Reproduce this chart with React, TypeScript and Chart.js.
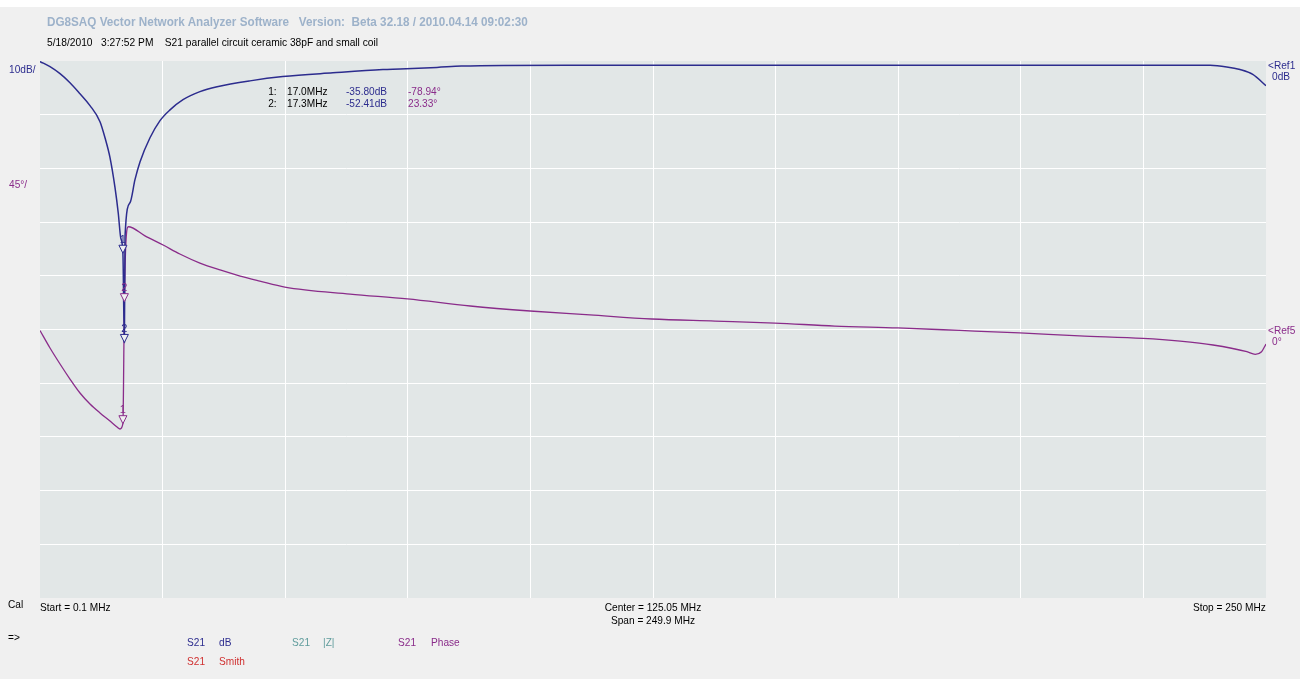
import React, { useEffect, useRef } from 'react';
import { Chart, registerables } from 'chart.js';

Chart.register(...registerables);

// ---- data ----
const dbFreqMHz = [
  0.1, 2.14, 4.18, 6.21, 8.25, 10.29, 12.33, 13.35, 14.37, 15.39, 16.06, 16.55, 17.0, 17.3,
  17.43, 18.44, 19.46, 20.48, 22.52, 24.56, 26.6, 29.25, 32.7, 36.2, 42.9, 49.6, 59.8, 70.0,
  73.5, 81, 86, 94.5, 110, 150, 200, 238.6, 242, 244.7, 247.3, 250,
];
const s21Db = [
  -0.1, -1.05, -2.36, -4.04, -6.1, -8.3, -11.3, -14.3, -18.0, -23.6, -28.4, -32.9, -35.8, -52.41,
  -32.7, -26.4, -22.1, -18.8, -14.3, -11.1, -9.1, -7.2, -5.7, -4.8, -3.7, -2.9, -2.2, -1.6,
  -1.5, -1.2, -0.95, -0.82, -0.8, -0.78, -0.78, -0.8, -1.1, -1.6, -2.5, -4.6,
];
const phaseFreqMHz = [
  0.1, 2.14, 4.18, 6.21, 8.25, 10.29, 12.33, 14.37, 15.8, 16.4, 17.0, 17.3, 17.6, 18.1,
  21.5, 25.2, 28.6, 32.7, 36.8, 40.9, 44.9, 50.0, 63.3, 75.0, 87.8, 100.0, 112.2, 124.8,
  137.7, 149.9, 162.1, 174.9, 187.6, 199.8, 212.0, 224.9, 232.5, 239.2, 246.1, 247.8, 249.1, 250,
];
const s21Phase = [
  -0.8, -15.5, -28.9, -41.5, -53.2, -62.4, -69.9, -76.7, -81.7, -83.4, -78.94, 23.33, 72, 86.1,
  78.5, 70.8, 63.3, 55.7, 49.9, 44.8, 40.6, 35.6, 29.7, 25.6, 19.7, 15.5, 12.2, 8.8,
  7.1, 5.4, 2.9, 1.3, -0.8, -2.9, -5.4, -7.5, -9.8, -13, -18.6, -20.8, -18.6, -12.2,
];
const markerFreqMHz = [17.0, 17.3];
const markerDb = [-35.8, -52.41];
const markerPhaseDeg = [-78.94, 23.33];
const markerLabels = ['1', '2'];
const xGridMHz = [0.1, 25.09, 50.08, 75.07, 100.06, 125.05, 150.04, 175.03, 200.02, 225.01, 250];

const BLUE = '#2c2c8e';
const PURPLE = '#8a2c8a';
const FONT = "'Liberation Sans', Arial, sans-serif";

const bgPlugin = {
  id: 'plotBg',
  beforeDraw(chart: any) {
    const { ctx, chartArea } = chart;
    ctx.save();
    ctx.fillStyle = '#e2e7e7';
    ctx.fillRect(chartArea.left, chartArea.top, chartArea.right - chartArea.left, chartArea.bottom - chartArea.top);
    ctx.restore();
  },
};

const markerPlugin = {
  id: 'markers',
  afterDatasetsDraw(chart: any) {
    const { ctx, scales } = chart;
    const draw = (px: number, py: number, color: string, label: string) => {
      ctx.save();
      ctx.beginPath();
      ctx.moveTo(px, py);
      ctx.lineTo(px - 4, py - 8);
      ctx.lineTo(px + 4, py - 8);
      ctx.closePath();
      ctx.fillStyle = '#eef0f0';
      ctx.fill();
      ctx.strokeStyle = color;
      ctx.lineWidth = 1;
      ctx.stroke();
      ctx.fillStyle = color;
      ctx.font = `11px ${FONT}`;
      ctx.textAlign = 'center';
      ctx.textBaseline = 'bottom';
      ctx.fillText(label, px, py - 8);
      ctx.restore();
    };
    markerFreqMHz.forEach((f, i) => {
      const px = scales.x.getPixelForValue(f);
      draw(px, scales.yDb.getPixelForValue(markerDb[i]), BLUE, markerLabels[i]);
      draw(px, scales.yPh.getPixelForValue(markerPhaseDeg[i]), PURPLE, markerLabels[i]);
    });
  },
};

type TProps = {
  x: number; y: number; color?: string; size?: number; bold?: boolean; sx?: number;
  align?: 'left' | 'center' | 'right'; children: React.ReactNode;
};
function T({ x, y, color = '#000', size = 11.5, bold = false, sx = 0.88, align = 'left', children }: TProps) {
  const lh = 14;
  const style: React.CSSProperties = {
    position: 'absolute',
    top: y - lh / 2,
    lineHeight: `${lh}px`,
    fontSize: size,
    fontFamily: FONT,
    fontWeight: bold ? 700 : 400,
    color,
    whiteSpace: 'pre',
  };
  if (align === 'left') {
    style.left = x;
    style.transform = `scaleX(${sx})`;
    style.transformOrigin = 'left center';
  } else if (align === 'right') {
    style.right = 1300 - x;
    style.transform = `scaleX(${sx})`;
    style.transformOrigin = 'right center';
  } else {
    style.left = x;
    style.transform = `translateX(-50%) scaleX(${sx})`;
    style.transformOrigin = 'center center';
  }
  return <div style={style}>{children}</div>;
}

export default function App() {
  const ref = useRef<HTMLCanvasElement>(null);
  useEffect(() => {
    if (!ref.current) return;
    const hideEdges = (c: any) => (c.index === 0 || c.index === 10 ? 'rgba(0,0,0,0)' : '#ffffff');
    const chart = new Chart(ref.current, {
      type: 'line',
      data: {
        datasets: [
          {
            label: 'S21 dB',
            data: dbFreqMHz.map((f, i) => ({ x: f, y: s21Db[i] })),
            yAxisID: 'yDb',
            borderColor: BLUE,
            borderWidth: 1.5,
            pointRadius: 0,
            cubicInterpolationMode: 'monotone',
          },
          {
            label: 'S21 Phase',
            data: phaseFreqMHz.map((f, i) => ({ x: f, y: s21Phase[i] })),
            yAxisID: 'yPh',
            borderColor: PURPLE,
            borderWidth: 1.3,
            pointRadius: 0,
            cubicInterpolationMode: 'monotone',
          },
        ],
      },
      options: {
        animation: false,
        responsive: false,
        layout: { padding: { left: 40, top: 61, right: 34, bottom: 81 } },
        plugins: { legend: { display: false }, tooltip: { enabled: false } },
        scales: {
          x: {
            type: 'linear',
            min: 0.1,
            max: 250,
            afterBuildTicks: (axis: any) => {
              axis.ticks = xGridMHz.map((v) => ({ value: v }));
            },
            ticks: { display: false },
            grid: { color: hideEdges, lineWidth: 1, drawTicks: false },
            border: { display: false },
          },
          yDb: {
            type: 'linear',
            position: 'left',
            min: -100,
            max: 0,
            ticks: { display: false, stepSize: 10 },
            grid: { color: hideEdges, lineWidth: 1, drawTicks: false },
            border: { display: false },
          },
          yPh: {
            type: 'linear',
            position: 'right',
            min: -225,
            max: 225,
            ticks: { display: false },
            grid: { display: false, drawTicks: false },
            border: { display: false },
          },
        },
      } as any,
      plugins: [bgPlugin, markerPlugin],
    });
    return () => chart.destroy();
  }, []);

  return (
    <div style={{ position: 'absolute', left: 0, top: 0, width: 1300, height: 679, background: '#f0f0f0', overflow: 'hidden' }}>
      <div style={{ position: 'absolute', left: 0, top: 0, width: 1300, height: 7, background: '#ffffff' }} />
      <canvas ref={ref} width={1300} height={679} style={{ position: 'absolute', left: 0, top: 0 }} />
      <T x={47} y={22} color="#9db2ca" bold size={12} sx={0.975}>{'DG8SAQ Vector Network Analyzer Software   Version:  Beta 32.18 / 2010.04.14 09:02:30'}</T>
      <T x={47} y={42} sx={0.89}>{'5/18/2010   3:27:52 PM    S21 parallel circuit ceramic 38pF and small coil'}</T>

      <T x={9} y={69} color={BLUE}>10dB/</T>
      <T x={9} y={184} color={PURPLE}>45°/</T>
      <T x={1268} y={65} color={BLUE}>&lt;Ref1</T>
      <T x={1272} y={76} color={BLUE}>0dB</T>
      <T x={1268} y={330} color={PURPLE}>&lt;Ref5</T>
      <T x={1272} y={341} color={PURPLE}>0°</T>

      <T x={277} y={91} align="right">1:</T>
      <T x={287} y={91}>17.0MHz</T>
      <T x={346} y={91} color={BLUE}>-35.80dB</T>
      <T x={408} y={91} color={PURPLE}>-78.94°</T>
      <T x={277} y={103} align="right">2:</T>
      <T x={287} y={103}>17.3MHz</T>
      <T x={346} y={103} color={BLUE}>-52.41dB</T>
      <T x={408} y={103} color={PURPLE}>23.33°</T>

      <T x={8} y={604}>Cal</T>
      <T x={40} y={607}>Start = 0.1 MHz</T>
      <T x={653} y={607} align="center">Center = 125.05 MHz</T>
      <T x={653} y={620} align="center">Span = 249.9 MHz</T>
      <T x={1266} y={607} align="right">Stop = 250 MHz</T>
      <T x={8} y={637}>=&gt;</T>

      <T x={187} y={642} color={BLUE}>S21</T>
      <T x={219} y={642} color={BLUE}>dB</T>
      <T x={292} y={642} color="#5f9c9c">S21</T>
      <T x={323} y={642} color="#5f9c9c">|Z|</T>
      <T x={398} y={642} color={PURPLE}>S21</T>
      <T x={431} y={642} color={PURPLE}>Phase</T>
      <T x={187} y={661} color="#d03030">S21</T>
      <T x={219} y={661} color="#d03030">Smith</T>
    </div>
  );
}
